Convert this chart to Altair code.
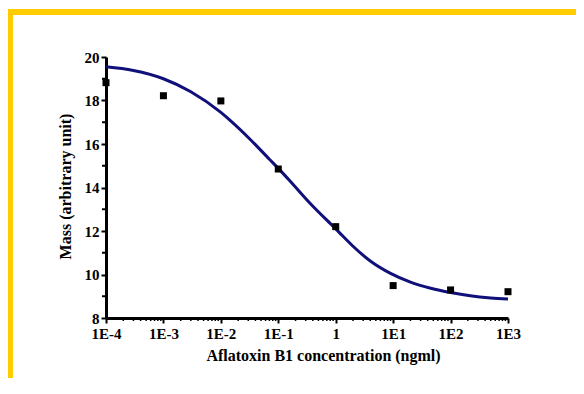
import altair as alt
import pandas as pd

# measured data points
point_x = [1e-4, 1e-3, 1e-2, 1e-1, 1, 10, 100, 1000]
point_y = [18.82, 18.22, 17.98, 14.85, 12.2, 9.49, 9.29, 9.21]

# fitted curve
curve_x = [1e-4, 3e-4, 1e-3, 3e-3, 1e-2, 1.5e-2, 3e-2, 7e-2, 0.1, 0.16, 0.35, 0.8,
           1, 2, 4, 9, 20, 45, 100, 220, 500, 1000]
curve_y = [19.55, 19.38, 19.0, 18.4, 17.45, 17.05, 16.3, 15.3, 14.88, 14.3, 13.3, 12.35,
           12.1, 11.3, 10.62, 10.05, 9.65, 9.37, 9.17, 9.02, 8.92, 8.87]

x_major = [1e-4, 1e-3, 1e-2, 1e-1, 1, 10, 100, 1000]
x_tick_labels = ["1E-4", "1E-3", "1E-2", "1E-1", "1", "1E1", "1E2", "1E3"]
y_major = [8, 10, 12, 14, 16, 18, 20]
y_minor = [9, 11, 13, 15, 17, 19]
x_minor = [m * 10.0 ** e for e in range(-4, 3) for m in range(2, 10)]

W, H = 402, 261
FONT = "Liberation Serif, Times New Roman, DejaVu Serif, serif"

label_list = "[" + ",".join("'" + s + "'" for s in x_tick_labels) + "]"

x_axis = alt.Axis(values=x_major, labelExpr=label_list + "[round(log(datum.value)/LN10)+4]",
                  domainWidth=3, domainColor="black", tickColor="black", tickWidth=2,
                  tickSize=5, labelFont=FONT, labelFontWeight="bold", labelFontSize=15,
                  labelColor="black", labelPadding=3, labelFlush=False, grid=False,
                  titleFont=FONT, titleFontWeight="bold", titleFontSize=16, titleColor="black",
                  titleX=217, titleY=37, titleBaseline="middle", titleAnchor="start",
                  titleAlign="center")
y_axis = alt.Axis(values=y_major, domainWidth=3, domainColor="black", tickColor="black",
                  tickWidth=2, tickSize=5, labelFont=FONT, labelFontWeight="bold",
                  labelFontSize=15, labelColor="black", labelPadding=2, grid=False,
                  titleFont=FONT, titleFontWeight="bold", titleFontSize=16, titleColor="black",
                  titleX=-41, titleY=129, titleBaseline="middle", titleAlign="center",
                  titleAngle=270)

x_scale = alt.Scale(type="log", domain=[1e-4, 1e3], nice=False)
y_scale = alt.Scale(domain=[8, 20], nice=False, zero=False)

def xe():
    return alt.X("x:Q", scale=x_scale, axis=x_axis, title="Aflatoxin B1 concentration (ngml)")

def ye():
    return alt.Y("y:Q", scale=y_scale, axis=y_axis, title="Mass (arbitrary unit)")

one = pd.DataFrame({"a": [0]})
frame_top = alt.Chart(one).mark_rect(color="#FFCC00").encode(
    x=alt.value(-98), x2=alt.value(470), y=alt.value(-48), y2=alt.value(-42))
frame_left = alt.Chart(one).mark_rect(color="#FFCC00").encode(
    x=alt.value(-98), x2=alt.value(-93), y=alt.value(-42), y2=alt.value(330))

curve = alt.Chart(pd.DataFrame({"x": curve_x, "y": curve_y})).mark_line(
    color="#10107a", strokeWidth=3, interpolate="monotone").encode(x=xe(), y=ye())
points = alt.Chart(pd.DataFrame({"x": point_x, "y": point_y})).mark_square(
    color="black", size=49, opacity=1).encode(x=xe(), y=ye())

ymin = alt.Chart(pd.DataFrame({"y": y_minor})).mark_rule(color="black", strokeWidth=2).encode(
    y=ye(), x=alt.value(-4), x2=alt.value(-1))
xmin = alt.Chart(pd.DataFrame({"x": x_minor})).mark_rule(color="black", strokeWidth=1.5).encode(
    x=xe(), y=alt.value(H + 1), y2=alt.value(H + 3))

chart = alt.layer(frame_top, frame_left, xmin, ymin, curve, points).properties(
    width=W, height=H,
    autosize=alt.AutoSizeParams(type="none"),
    padding={"left": 98, "top": 49, "right": 68, "bottom": 60},
    background="white",
).configure_view(stroke=None)

chart.save("out.html", embed_options={"renderer": "svg", "actions": False})
